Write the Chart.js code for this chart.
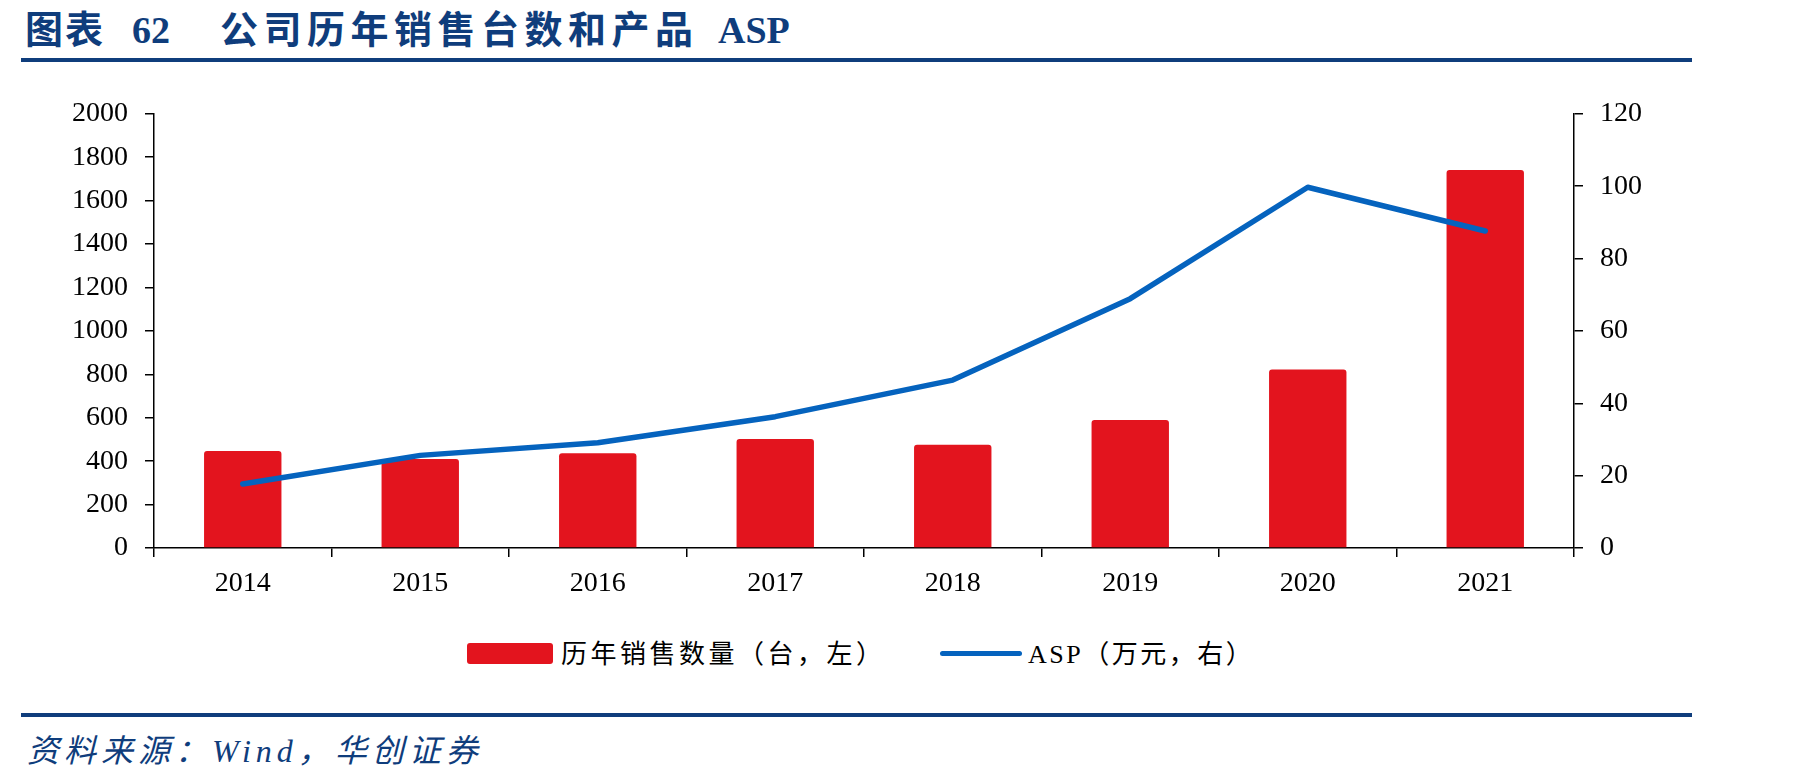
<!DOCTYPE html>
<html>
<head>
<meta charset="utf-8">
<script src="https://cdn.jsdelivr.net/npm/chart.js@4/dist/chart.umd.min.js"></script>
<style>
  body { margin: 0; width: 1801px; height: 782px; background: #fff; position: relative; overflow: hidden; }
  .t { position: absolute; color: #0f3d7c; font-weight: bold; font-size: 38px; line-height: 40px; top: 10px;
       font-family: "Liberation Serif", "Noto Sans CJK SC", serif; white-space: nowrap; }
  .rule { position: absolute; left: 21px; width: 1671px; height: 4px; background: #0f3d7c; }
  #wrap { position: absolute; left: 0; top: 80px; width: 1801px; height: 530px; }
  .leg { position: absolute; top: 640px; font-size: 26px; line-height: 30px; color: #000; white-space: nowrap;
         font-family: "Liberation Serif", "Noto Sans CJK SC", serif; letter-spacing: 3.5px; }
  .src { position: absolute; left: 27px; top: 733px; font-size: 32px; line-height: 36px; color: #0f3d7c; font-style: italic;
         font-family: "Liberation Serif", "Noto Sans CJK SC", serif; letter-spacing: 5px; white-space: nowrap; }
</style>
</head>
<body>
<div class="t" style="left:25px; letter-spacing:2px">图表</div>
<div class="t" style="left:132px">62</div>
<div class="t" style="left:220px; letter-spacing:5.5px">公司历年销售台数和产品</div>
<div class="t" style="left:718px">ASP</div>
<div class="rule" style="top:58px"></div>

<div id="wrap"><canvas id="chart"></canvas></div>

<div style="position:absolute; left:467px; top:643px; width:86px; height:21px; background:#e3141e; border-radius:3px"></div>
<div class="leg" style="left:561px">历年销售数量（台，左）</div>
<div style="position:absolute; left:940px; top:651px; width:82px; height:5px; background:#0563be; border-radius:3px"></div>
<div class="leg" style="left:1028px; letter-spacing:2.5px">ASP（万元，右）</div>

<div class="rule" style="top:713px"></div>
<div class="src">资料来源：Wind，华创证券</div>

<script>
const years = ['2014', '2015', '2016', '2017', '2018', '2019', '2020', '2021'];
const salesUnits = [447, 410, 437, 502, 476, 590, 822, 1741];
const aspValues = [17.7, 25.6, 29.1, 36.3, 46.4, 68.9, 99.7, 87.6];
const leftTicks = [0, 2000, 200];
const rightTicks = [0, 120, 20];

const tickFont = { family: '"Liberation Serif", "Times New Roman", serif', size: 28 };

const ctx = document.getElementById('chart');

new Chart(ctx, {
    data: {
        labels: years,
        datasets: [{
            type: 'line',
            label: 'ASP（万元，右）',
            data: aspValues,
            yAxisID: 'y1',
            borderColor: '#0563be',
            borderWidth: 5.5,
            borderCapStyle: 'round',
            borderJoinStyle: 'round',
            tension: 0,
            pointRadius: 0,
            fill: false,
            order: 0
        }, {
            type: 'bar',
            label: '历年销售数量（台，左）',
            data: salesUnits,
            yAxisID: 'y',
            backgroundColor: '#e3141e',
            borderRadius: 3,
            borderSkipped: 'bottom',
            categoryPercentage: 1,
            barPercentage: 0.436,
            order: 1
        }]
    },
    options: {
        responsive: true,
        maintainAspectRatio: false,
        animation: false,
        layout: { padding: { top: 13, bottom: 12, left: 0, right: 0 } },
        plugins: {
            legend: { display: false },
            tooltip: { enabled: false }
        },
        scales: {
            x: {
                offset: true,
                grid: { offset: true, drawOnChartArea: false, drawTicks: true, tickLength: 9, color: '#000', lineWidth: 1.5 },
                border: { color: '#000', width: 1.5 },
                ticks: { color: '#000', font: tickFont, padding: 10, maxRotation: 0 },
                afterFit: s => { s.height = 50; }
            },
            y: {
                position: 'left',
                min: leftTicks[0],
                max: leftTicks[1],
                grid: { drawOnChartArea: false, drawTicks: true, tickLength: 9, color: '#000', lineWidth: 1.5 },
                border: { color: '#000', width: 1.5 },
                ticks: { stepSize: leftTicks[2], color: '#000', font: tickFont, padding: 17, callback: v => String(v) },
                afterFit: s => { s.width = 154; }
            },
            y1: {
                position: 'right',
                min: rightTicks[0],
                max: rightTicks[1],
                grid: { drawOnChartArea: false, drawTicks: true, tickLength: 9, color: '#000', lineWidth: 1.5 },
                border: { color: '#000', width: 1.5 },
                ticks: { stepSize: rightTicks[2], color: '#000', font: tickFont, padding: 17, callback: v => String(v) },
                afterFit: s => { s.width = 227; }
            }
        }
    }
});
</script>
</body>
</html>
